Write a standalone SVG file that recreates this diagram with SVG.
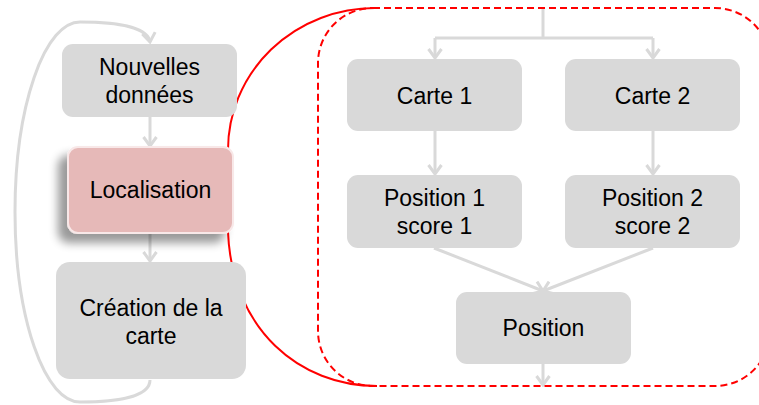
<svg xmlns="http://www.w3.org/2000/svg" width="759" height="405" viewBox="0 0 759 405">
<defs>
<style>
.box{fill:#d9d9d9;}
.t{font-family:"Liberation Sans",Arial,sans-serif;font-size:23px;fill:#000;text-anchor:middle;}
.c{fill:none;stroke:#d9d9d9;stroke-width:3;}
.red{fill:none;stroke:#ff0000;stroke-width:2;}
</style>
<marker id="ah" viewBox="0 0 14 16" refX="12" refY="8" markerWidth="14" markerHeight="16" markerUnits="userSpaceOnUse" orient="auto">
<path d="M3,1.5 L12,8 L3,14.5" fill="none" stroke="#d9d9d9" stroke-width="3"/>
</marker>
<filter id="sh" x="-30%" y="-30%" width="160%" height="170%">
<feGaussianBlur in="SourceAlpha" stdDeviation="5"/>
<feOffset dx="-9" dy="9"/>
<feComponentTransfer><feFuncA type="linear" slope="0.4"/></feComponentTransfer>
<feMerge><feMergeNode/><feMergeNode in="SourceGraphic"/></feMerge>
</filter>
</defs>
<g id="connectors">
<path class="c" d="M150,380 C150,396 120,402 80,402 A65,190 0 0 1 80,22 C120,22 148,28 150,42" marker-end="url(#ah)"/>
<line class="c" x1="150" y1="117" x2="150" y2="146" marker-end="url(#ah)"/>
<line class="c" x1="150" y1="233" x2="150" y2="261" marker-end="url(#ah)"/>
<path class="c" d="M543,9 V38"/>
<path class="c" d="M435,38 H653"/>
<line class="c" x1="435" y1="38" x2="435" y2="58" marker-end="url(#ah)"/>
<line class="c" x1="653" y1="38" x2="653" y2="58" marker-end="url(#ah)"/>
<line class="c" x1="435" y1="131" x2="435" y2="174" marker-end="url(#ah)"/>
<line class="c" x1="653" y1="131" x2="653" y2="174" marker-end="url(#ah)"/>
<line class="c" x1="434" y1="248" x2="543" y2="291" marker-end="url(#ah)"/>
<line class="c" x1="653" y1="248" x2="543" y2="291" marker-end="url(#ah)"/>
<line class="c" x1="543" y1="364" x2="543" y2="385" marker-end="url(#ah)"/>
<rect class="red" x="318" y="8" width="452" height="378" rx="55" ry="55" stroke-dasharray="7,4"/>
<path class="red" d="M228,150 A147,142 0 0 1 375,8"/>
<path class="red" d="M228,232 C232,330 300,386 377,386"/>
</g>
<g id="nouvelles">
<rect class="box" x="62" y="44" width="175" height="73" rx="11"/>
<text class="t" x="149.5" y="75">Nouvelles</text>
<text class="t" x="149.5" y="103">données</text>
</g>
<g id="localisation">
<rect x="68" y="147" width="165" height="86" rx="10" fill="#e6b9b8" stroke="#f8e8e8" stroke-width="2" filter="url(#sh)"/>
<text class="t" x="150.5" y="198">Localisation</text>
</g>
<g id="creation">
<rect class="box" x="56" y="262" width="190" height="117" rx="14"/>
<text class="t" x="151" y="316">Création de la</text>
<text class="t" x="151" y="344">carte</text>
</g>
<g id="carte1">
<rect class="box" x="347" y="59" width="175" height="72" rx="11"/>
<text class="t" x="434.5" y="104">Carte 1</text>
</g>
<g id="carte2">
<rect class="box" x="565" y="59" width="175" height="72" rx="11"/>
<text class="t" x="652.5" y="104">Carte 2</text>
</g>
<g id="position1">
<rect class="box" x="347" y="175" width="175" height="73" rx="11"/>
<text class="t" x="434.5" y="206">Position 1</text>
<text class="t" x="434.5" y="234">score 1</text>
</g>
<g id="position2">
<rect class="box" x="565" y="175" width="175" height="73" rx="11"/>
<text class="t" x="652.5" y="206">Position 2</text>
<text class="t" x="652.5" y="234">score 2</text>
</g>
<g id="position">
<rect class="box" x="456" y="292" width="175" height="72" rx="11"/>
<text class="t" x="543.5" y="336">Position</text>
</g>
</svg>
